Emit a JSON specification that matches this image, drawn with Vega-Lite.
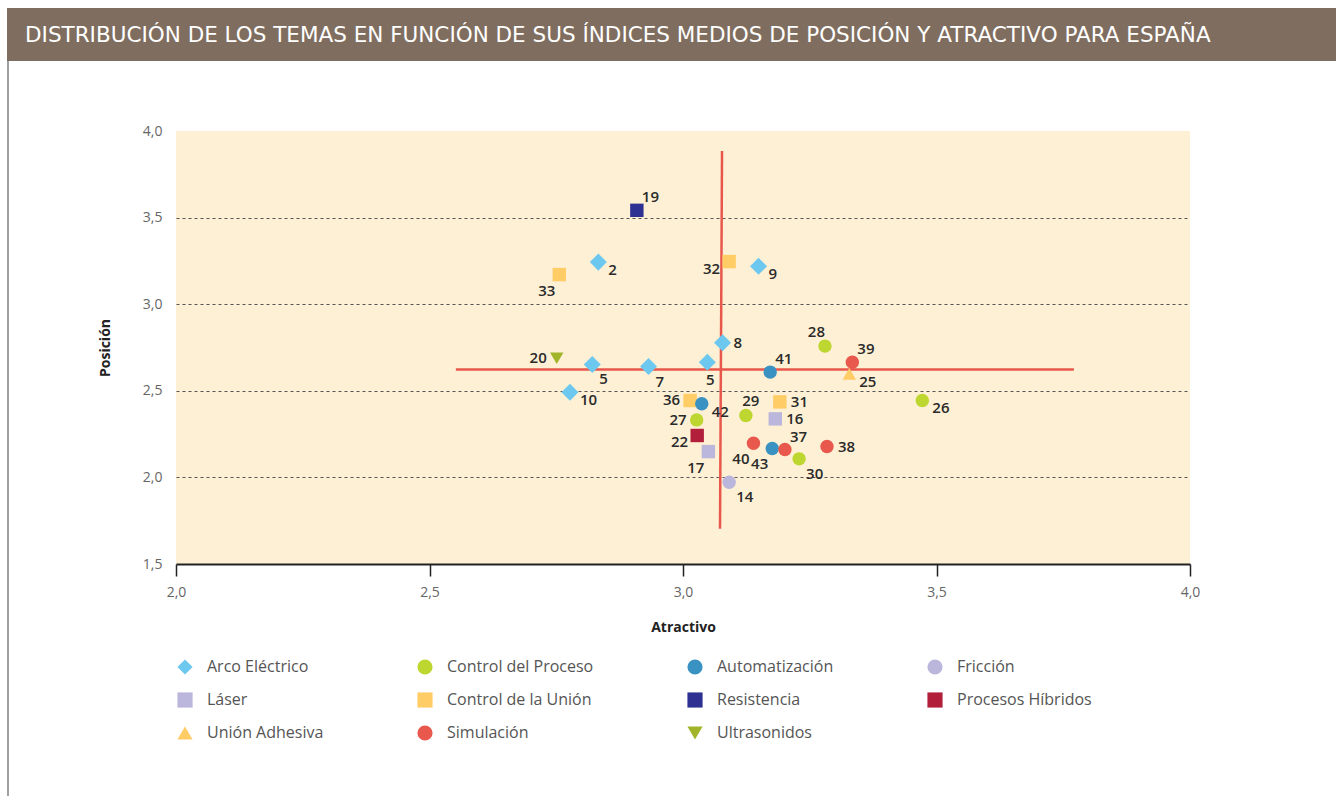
{
  "$schema": "https://vega.github.io/schema/vega-lite/v6.json",
  "padding": {"left": 7, "top": 8, "right": 0, "bottom": 0},
  "background": "#FFFFFF",
  "spacing": 0,
  "config": {
    "view": {"stroke": null, "fill": "#FEF0D4"},
    "font": "Open Sans",
    "axis": {"labelFont": "Open Sans", "labelFontSize": 14, "labelColor": "#666666", "titleFont": "Open Sans", "titleFontSize": 14, "titleFontWeight": "bold", "titleColor": "#222222", "labelFlush": false, "labelOverlap": false},
    "legend": {"labelFont": "Open Sans"}
  },
  "vconcat": [
    {
      "width": 1329,
      "height": 53,
      "data": {"values": [{"t": "DISTRIBUCIÓN DE LOS TEMAS EN FUNCIÓN DE SUS ÍNDICES MEDIOS DE POSICIÓN Y ATRACTIVO PARA ESPAÑA"}]},
      "layer": [
        {"mark": {"type": "rect", "color": "#7F6E5F"}, "encoding": {}},
        {"mark": {"type": "text", "align": "left", "baseline": "middle", "dx": 18, "dy": 1, "color": "#FFFFFF", "fontSize": 21.5, "font": "DejaVu Sans"},
         "encoding": {"text": {"field": "t"}, "x": {"datum": 0, "type": "quantitative", "scale": {"domain": [0, 1]}, "axis": null}}}
      ]
    },
    {
      "spacing": 89,
      "hconcat": [
        {
          "width": 2,
          "height": 735,
          "data": {"values": [{}]},
          "mark": {"type": "rect", "color": "#A0A0A0"},
          "encoding": {}
        },
        {
          "spacing": 62,
          "vconcat": [
            {
              "width": 1,
              "height": 1,
              "data": {"values": [{}]},
              "mark": {"type": "rect", "color": "#FFFFFF"},
              "encoding": {}
            },
            {
              "width": 1014,
              "height": 433,
              "data": {"values": [
                {"num": "19", "tema": "Resistencia", "atractivo": 2.909, "posicion": 3.542, "pos": "ar"},
                {"num": "33", "tema": "Control de la Unión", "atractivo": 2.756, "posicion": 3.171, "pos": "bl"},
                {"num": "2", "tema": "Arco Eléctrico", "atractivo": 2.833, "posicion": 3.243, "pos": "rb"},
                {"num": "32", "tema": "Control de la Unión", "atractivo": 3.091, "posicion": 3.246, "pos": "lb"},
                {"num": "9", "tema": "Arco Eléctrico", "atractivo": 3.149, "posicion": 3.219, "pos": "rb"},
                {"num": "8", "tema": "Arco Eléctrico", "atractivo": 3.078, "posicion": 2.777, "pos": "r"},
                {"num": "20", "tema": "Ultrasonidos", "atractivo": 2.751, "posicion": 2.688, "pos": "l"},
                {"num": "5", "tema": "Arco Eléctrico", "atractivo": 2.821, "posicion": 2.652, "pos": "br"},
                {"num": "7", "tema": "Arco Eléctrico", "atractivo": 2.932, "posicion": 2.640, "pos": "br"},
                {"num": "5", "tema": "Arco Eléctrico", "atractivo": 3.048, "posicion": 2.665, "pos": "b"},
                {"num": "10", "tema": "Arco Eléctrico", "atractivo": 2.777, "posicion": 2.492, "pos": "rb"},
                {"num": "36", "tema": "Control de la Unión", "atractivo": 3.014, "posicion": 2.444, "pos": "l"},
                {"num": "42", "tema": "Automatización", "atractivo": 3.037, "posicion": 2.425, "pos": "rb"},
                {"num": "27", "tema": "Control del Proceso", "atractivo": 3.027, "posicion": 2.332, "pos": "l"},
                {"num": "22", "tema": "Procesos Híbridos", "atractivo": 3.028, "posicion": 2.242, "pos": "lb"},
                {"num": "17", "tema": "Láser", "atractivo": 3.050, "posicion": 2.149, "pos": "bl"},
                {"num": "14", "tema": "Fricción", "atractivo": 3.091, "posicion": 1.972, "pos": "br"},
                {"num": "29", "tema": "Control del Proceso", "atractivo": 3.124, "posicion": 2.357, "pos": "a"},
                {"num": "41", "tema": "Automatización", "atractivo": 3.172, "posicion": 2.608, "pos": "ar"},
                {"num": "28", "tema": "Control del Proceso", "atractivo": 3.280, "posicion": 2.758, "pos": "al"},
                {"num": "39", "tema": "Simulación", "atractivo": 3.334, "posicion": 2.665, "pos": "ar"},
                {"num": "25", "tema": "Unión Adhesiva", "atractivo": 3.328, "posicion": 2.598, "pos": "rb"},
                {"num": "31", "tema": "Control de la Unión", "atractivo": 3.191, "posicion": 2.436, "pos": "r"},
                {"num": "16", "tema": "Láser", "atractivo": 3.182, "posicion": 2.338, "pos": "r"},
                {"num": "26", "tema": "Control del Proceso", "atractivo": 3.472, "posicion": 2.444, "pos": "rb"},
                {"num": "40", "tema": "Simulación", "atractivo": 3.139, "posicion": 2.197, "pos": "bl"},
                {"num": "43", "tema": "Automatización", "atractivo": 3.176, "posicion": 2.167, "pos": "bl"},
                {"num": "37", "tema": "Simulación", "atractivo": 3.201, "posicion": 2.161, "pos": "ar"},
                {"num": "30", "tema": "Control del Proceso", "atractivo": 3.229, "posicion": 2.107, "pos": "br"},
                {"num": "38", "tema": "Simulación", "atractivo": 3.284, "posicion": 2.178, "pos": "r"}
              ]},
              "layer": [
                {
                  "data": {"values": [
                    {"atractivo": 2.552, "atractivo2": 3.771, "posicion": 2.623, "posicion2": 2.623},
                    {"atractivo": 3.077, "atractivo2": 3.073, "posicion": 3.884, "posicion2": 1.703}
                  ]},
                  "mark": {"type": "rule", "color": "#E8574C", "strokeWidth": 2.5},
                  "encoding": {
                    "x": {"field": "atractivo", "type": "quantitative", "scale": {"domain": [2, 4], "nice": false, "zero": false},
                      "axis": {"title": "Atractivo", "values": [2, 2.5, 3, 3.5, 4], "labelExpr": "replace(format(datum.value, '.1f'), '.', ',')", "grid": false, "domainColor": "#222222", "domainWidth": 2, "tickColor": "#222222", "tickWidth": 1.5, "tickSize": 12, "labelPadding": 9, "titlePadding": 21}},
                    "x2": {"field": "atractivo2"},
                    "y": {"field": "posicion", "type": "quantitative", "scale": {"domain": [1.5, 4], "nice": false, "zero": false},
                      "axis": {"title": "Posición", "values": [1.5, 2, 2.5, 3, 3.5, 4], "labelExpr": "replace(format(datum.value, '.1f'), '.', ',')", "domain": false, "ticks": false, "labelPadding": 14, "titlePadding": 30, "grid": true, "gridColor": "#555555", "gridDash": [3, 3], "gridWidth": 1.2, "gridOpacity": {"condition": {"test": "datum.value > 3.9 || datum.value < 1.6", "value": 0}, "value": 1}}},
                    "y2": {"field": "posicion2"}
                  }
                },
                {
                  "transform": [{"filter": "datum.tema !== 'Arco Eléctrico'"}],
                  "mark": {"type": "point", "filled": true, "opacity": 1, "size": 180, "strokeWidth": 0},
                  "encoding": {
                    "x": {"field": "atractivo", "type": "quantitative", "scale": {"domain": [2, 4], "nice": false, "zero": false}},
                    "y": {"field": "posicion", "type": "quantitative", "scale": {"domain": [1.5, 4], "nice": false, "zero": false}},
                    "color": {"field": "tema", "type": "nominal",
                      "scale": {"domain": ["Arco Eléctrico", "Control del Proceso", "Automatización", "Fricción", "Láser", "Control de la Unión", "Resistencia", "Procesos Híbridos", "Unión Adhesiva", "Simulación", "Ultrasonidos"],
                                "range": ["#6DC8F0", "#BDD630", "#3A92C2", "#BBB6DB", "#BBB6DB", "#FFCC66", "#2E3192", "#B21F3B", "#FFCC66", "#E8584D", "#A2B52A"]},
                      "legend": {"orient": "none", "legendX": 170, "legendY": 651, "columns": 4, "direction": "horizontal", "title": null, "labelFontSize": 16, "labelColor": "#555555", "labelFont": "Open Sans", "symbolSize": 230, "symbolStrokeWidth": 0, "symbolOpacity": 1, "rowPadding": 17, "columnPadding": 93, "labelOffset": 14, "gridAlign": "each", "padding": 0}},
                    "shape": {"field": "tema", "type": "nominal",
                      "scale": {"domain": ["Arco Eléctrico", "Control del Proceso", "Automatización", "Fricción", "Láser", "Control de la Unión", "Resistencia", "Procesos Híbridos", "Unión Adhesiva", "Simulación", "Ultrasonidos"],
                                "range": ["diamond", "circle", "circle", "circle", "square", "square", "square", "square", "triangle-up", "circle", "triangle-down"]}}
                  }
                },
                {
                  "transform": [{"filter": "datum.tema === 'Arco Eléctrico'"}],
                  "mark": {"type": "point", "filled": true, "opacity": 1, "size": 290, "strokeWidth": 0},
                  "encoding": {
                    "x": {"field": "atractivo", "type": "quantitative", "scale": {"domain": [2, 4], "nice": false, "zero": false}},
                    "y": {"field": "posicion", "type": "quantitative", "scale": {"domain": [1.5, 4], "nice": false, "zero": false}},
                    "color": {"field": "tema", "type": "nominal"},
                    "shape": {"field": "tema", "type": "nominal"}
                  }
                },
                {"transform": [{"filter": "datum.pos === 'ar'"}], "mark": {"type": "text", "align": "left", "baseline": "middle", "dx": 5, "dy": -13, "fontSize": 15, "fontWeight": 600, "color": "#2A2A2A"},
                 "encoding": {"x": {"field": "atractivo", "type": "quantitative"}, "y": {"field": "posicion", "type": "quantitative"}, "text": {"field": "num"}}},
                {"transform": [{"filter": "datum.pos === 'a'"}], "mark": {"type": "text", "align": "center", "baseline": "middle", "dx": 5, "dy": -15, "fontSize": 15, "fontWeight": 600, "color": "#2A2A2A"},
                 "encoding": {"x": {"field": "atractivo", "type": "quantitative"}, "y": {"field": "posicion", "type": "quantitative"}, "text": {"field": "num"}}},
                {"transform": [{"filter": "datum.pos === 'al'"}], "mark": {"type": "text", "align": "right", "baseline": "middle", "dx": 0, "dy": -14, "fontSize": 15, "fontWeight": 600, "color": "#2A2A2A"},
                 "encoding": {"x": {"field": "atractivo", "type": "quantitative"}, "y": {"field": "posicion", "type": "quantitative"}, "text": {"field": "num"}}},
                {"transform": [{"filter": "datum.pos === 'r'"}], "mark": {"type": "text", "align": "left", "baseline": "middle", "dx": 11, "dy": 0, "fontSize": 15, "fontWeight": 600, "color": "#2A2A2A"},
                 "encoding": {"x": {"field": "atractivo", "type": "quantitative"}, "y": {"field": "posicion", "type": "quantitative"}, "text": {"field": "num"}}},
                {"transform": [{"filter": "datum.pos === 'rb'"}], "mark": {"type": "text", "align": "left", "baseline": "middle", "dx": 10, "dy": 8, "fontSize": 15, "fontWeight": 600, "color": "#2A2A2A"},
                 "encoding": {"x": {"field": "atractivo", "type": "quantitative"}, "y": {"field": "posicion", "type": "quantitative"}, "text": {"field": "num"}}},
                {"transform": [{"filter": "datum.pos === 'br'"}], "mark": {"type": "text", "align": "left", "baseline": "middle", "dx": 7, "dy": 15, "fontSize": 15, "fontWeight": 600, "color": "#2A2A2A"},
                 "encoding": {"x": {"field": "atractivo", "type": "quantitative"}, "y": {"field": "posicion", "type": "quantitative"}, "text": {"field": "num"}}},
                {"transform": [{"filter": "datum.pos === 'b'"}], "mark": {"type": "text", "align": "center", "baseline": "middle", "dx": 3, "dy": 18, "fontSize": 15, "fontWeight": 600, "color": "#2A2A2A"},
                 "encoding": {"x": {"field": "atractivo", "type": "quantitative"}, "y": {"field": "posicion", "type": "quantitative"}, "text": {"field": "num"}}},
                {"transform": [{"filter": "datum.pos === 'l'"}], "mark": {"type": "text", "align": "right", "baseline": "middle", "dx": -10, "dy": 0, "fontSize": 15, "fontWeight": 600, "color": "#2A2A2A"},
                 "encoding": {"x": {"field": "atractivo", "type": "quantitative"}, "y": {"field": "posicion", "type": "quantitative"}, "text": {"field": "num"}}},
                {"transform": [{"filter": "datum.pos === 'lb'"}], "mark": {"type": "text", "align": "right", "baseline": "middle", "dx": -9, "dy": 7, "fontSize": 15, "fontWeight": 600, "color": "#2A2A2A"},
                 "encoding": {"x": {"field": "atractivo", "type": "quantitative"}, "y": {"field": "posicion", "type": "quantitative"}, "text": {"field": "num"}}},
                {"transform": [{"filter": "datum.pos === 'bl'"}], "mark": {"type": "text", "align": "right", "baseline": "middle", "dx": -4, "dy": 16, "fontSize": 15, "fontWeight": 600, "color": "#2A2A2A"},
                 "encoding": {"x": {"field": "atractivo", "type": "quantitative"}, "y": {"field": "posicion", "type": "quantitative"}, "text": {"field": "num"}}}
              ]
            }
          ]
        }
      ]
    }
  ]
}
